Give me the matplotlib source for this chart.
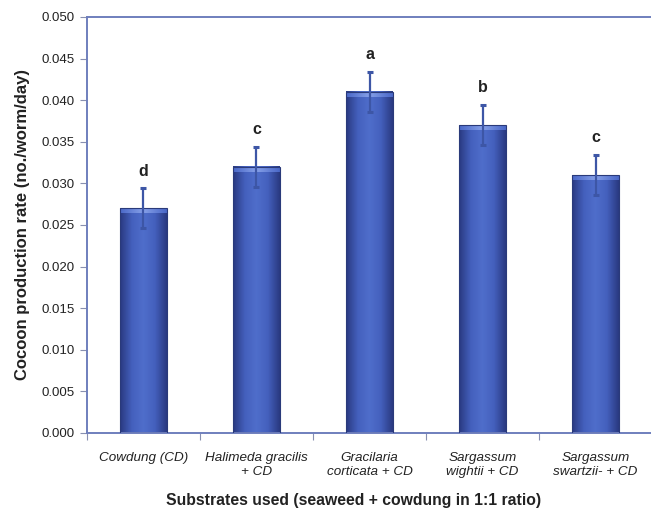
import numpy as np
import matplotlib.pyplot as plt
from matplotlib.colors import LinearSegmentedColormap

plt.rcParams['font.family'] = ['Liberation Sans', 'DejaVu Sans']

substrates = ["Cowdung (CD)", "Halimeda gracilis\n+ CD", "Gracilaria\ncorticata + CD",
              "Sargassum\nwightii + CD", "Sargassum\nswartzii- + CD"]
rate = [0.027, 0.032, 0.041, 0.037, 0.031]
sd = [0.0024, 0.0024, 0.0024, 0.0024, 0.0024]
letters = ["d", "c", "a", "b", "c"]

fig = plt.figure(figsize=(6.51, 5.14), dpi=100)
ax = fig.add_axes([0.1336, 0.1576, 0.868, 0.8094])

x = np.arange(len(rate))
width = 0.41

# shaded bar fill: dark edges, lighter middle
shade = LinearSegmentedColormap.from_list(
    "shade", ["#2a3a82", "#4460bd", "#4f6ecb", "#4460bd", "#2a3a82"])
cap = LinearSegmentedColormap.from_list("cap", ["#4a68c8", "#86a0e8", "#4a68c8"])
grad = np.linspace(0, 1, 64).reshape(1, -1)
for xi, v in zip(x, rate):
    ax.imshow(grad, cmap=shade, aspect="auto", zorder=2,
              extent=[xi - width / 2, xi + width / 2, 0, v])
    # lighter cap along the top edge
    ax.imshow(grad, cmap=cap, aspect="auto", zorder=3,
              extent=[xi - width / 2, xi + width / 2, v - 0.0006, v])
bars = ax.bar(x, rate, width=width, facecolor="none", edgecolor="#2a3a7a",
              linewidth=0.8, zorder=4)

ax.errorbar(x, rate, yerr=sd, fmt="none", ecolor="#3d56a6", elinewidth=1.6,
            capsize=2.5, capthick=2.2, zorder=5)

for xi, v, e, l in zip(x, rate, sd, letters):
    ax.annotate(l, (xi, v + e), xytext=(0, 7), textcoords="offset points",
                ha="center", va="bottom", fontsize=11.5, fontweight="bold", color="#222222")

ax.set_xlim(-0.5, len(rate) - 0.5)
ax.set_ylim(0, 0.05)
yt = np.arange(0, 0.0501, 0.005)
ax.set_yticks(yt)
ax.set_yticklabels([f"{t:.3f}" for t in yt])
ax.set_xticks(np.arange(-0.5, len(rate), 1.0), minor=False)
ax.set_xticklabels([])
ax.set_xticks(x, minor=True)
ax.set_xticklabels(substrates, minor=True, style="italic", fontsize=9.7, color="#222222")
ax.tick_params(axis="x", which="minor", length=0, pad=14)
ax.tick_params(axis="x", which="major", length=5, color="#8890b0", direction="out")
ax.tick_params(axis="y", length=5, color="#8890b0", labelsize=9.5, labelcolor="#222222", pad=4)

for s in ["left", "top", "bottom"]:
    ax.spines[s].set_color("#6f7fbd")
    ax.spines[s].set_linewidth(1.4)
ax.spines["right"].set_visible(False)

ax.set_ylabel("Cocoon production rate (no./worm/day)", fontsize=12, fontweight="bold",
              color="#222222", labelpad=8)
fig.text(354 / 651, 1 - 500 / 514, "Substrates used (seaweed + cowdung in 1:1 ratio)",
         ha="center", va="center", fontsize=11.3, fontweight="bold", color="#222222")

fig.savefig("out.png", dpi=100)
